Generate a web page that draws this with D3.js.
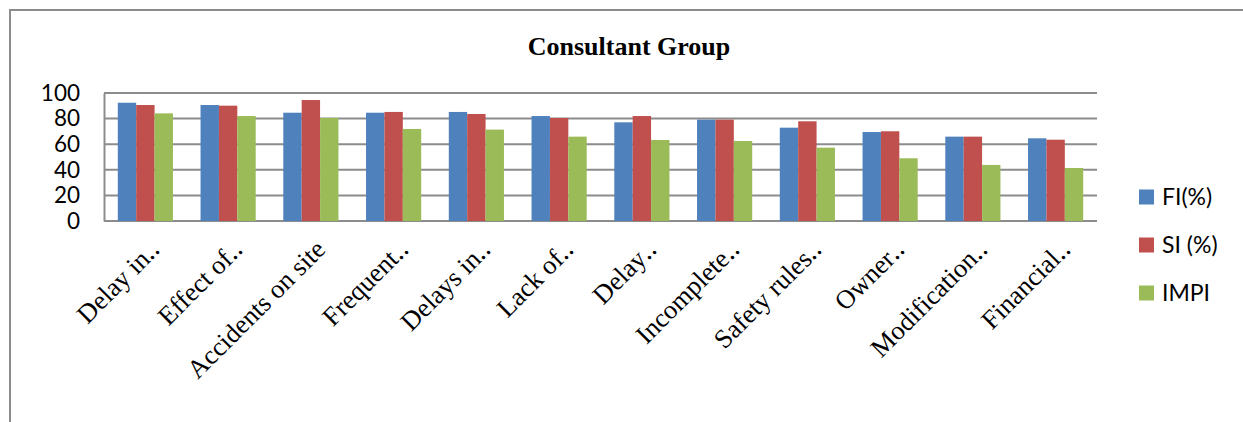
<!DOCTYPE html>
<html>
<head>
  <meta charset="utf-8">
  <title>Consultant Group</title>
  <script src="https://d3js.org/d3.v7.min.js"></script>
  <style>
    body { margin: 0; background: white; }
  </style>
</head>
<body>
  <script>
    // data
    const categories = ["Delay in‥", "Effect of‥", "Accidents on site", "Frequent‥", "Delays in‥",
      "Lack of‥", "Delay‥", "Incomplete‥", "Safety rules‥", "Owner‥", "Modification‥", "Financial‥"];
    const seriesNames = ["FI(%)", "SI (%)", "IMPI"];
    const fiValues = [92.4, 90.6, 84.6, 84.6, 85.2, 82, 77.1, 79.2, 72.9, 69.5, 65.9, 64.6];
    const siValues = [90.6, 90.1, 94.5, 85.2, 83.6, 80.5, 82, 79.2, 77.9, 70.1, 65.9, 63.5];
    const impiValues = [84.1, 82, 80.5, 71.9, 71.4, 65.9, 63.3, 62.5, 57.3, 49, 43.8, 41.4];
    const yTicks = [0, 20, 40, 60, 80, 100];
    const colors = ["#4F81BD", "#C0504D", "#9BBB59"];

    const series = [fiValues, siValues, impiValues];

    const width = 1243, height = 422;
    const margin = { top: 93, right: 146, bottom: 201, left: 104 };

    const svg = d3.select("body").append("svg")
      .attr("width", width)
      .attr("height", height);

    // outer frame (runs off the right and bottom edge)
    svg.append("rect")
      .attr("x", 10).attr("y", 10)
      .attr("width", 1250).attr("height", 430)
      .attr("fill", "none")
      .attr("stroke", "#8c8c8c")
      .attr("stroke-width", 2);

    svg.append("text")
      .attr("x", 629)
      .attr("y", 55)
      .attr("text-anchor", "middle")
      .attr("font-family", "Liberation Serif, Times New Roman, serif")
      .attr("font-weight", "bold")
      .attr("font-size", 26)
      .text("Consultant Group");

    const x0 = d3.scaleBand()
      .domain(categories)
      .range([margin.left, width - margin.right])
      .padding(0);

    const x1 = d3.scaleBand()
      .domain(d3.range(seriesNames.length))
      .range([0, x0.bandwidth()])
      .paddingInner(0)
      .paddingOuter(0.75);

    const y = d3.scaleLinear()
      .domain([0, 100])
      .range([height - margin.bottom, margin.top]);

    // gridlines
    svg.append("g")
      .selectAll("line")
      .data(yTicks)
      .join("line")
      .attr("x1", margin.left)
      .attr("x2", width - margin.right)
      .attr("y1", d => y(d))
      .attr("y2", d => y(d))
      .attr("stroke", "#8c8c8c")
      .attr("stroke-width", 2);

    // y axis
    const yAxis = svg.append("g")
      .attr("transform", `translate(${margin.left},0)`)
      .call(d3.axisLeft(y).tickValues(yTicks).tickSize(0).tickPadding(24));
    yAxis.select(".domain").attr("stroke", "#8c8c8c").attr("stroke-width", 2);
    yAxis.selectAll("text")
      .attr("font-family", "Lato, Carlito, sans-serif")
      .attr("font-size", 22.5)
      .attr("fill", "#000");

    // bars
    svg.append("g")
      .selectAll("g")
      .data(categories)
      .join("g")
      .attr("transform", d => `translate(${x0(d)},0)`)
      .selectAll("rect")
      .data((d, i) => series.map((s, j) => ({ j, v: s[i] })))
      .join("rect")
      .attr("x", d => x1(d.j))
      .attr("width", x1.bandwidth())
      .attr("y", d => y(d.v))
      .attr("height", d => y(0) - y(d.v))
      .attr("fill", d => colors[d.j]);

    // category labels
    svg.append("g")
      .selectAll("text")
      .data(categories)
      .join("text")
      .attr("transform", d => `translate(${x0(d) + x0.bandwidth() / 2 + 16},${y(0) + 30}) rotate(-45)`)
      .attr("text-anchor", "end")
      .attr("font-family", "Liberation Serif, Times New Roman, serif")
      .attr("font-size", 26.5)
      .text(d => d);

    // legend
    const legend = svg.append("g")
      .selectAll("g")
      .data(seriesNames)
      .join("g")
      .attr("transform", (d, i) => `translate(1139,${197 + i * 48})`);
    legend.append("rect")
      .attr("y", -7.5)
      .attr("width", 15)
      .attr("height", 15)
      .attr("fill", (d, i) => colors[i]);
    legend.append("text")
      .attr("x", 23)
      .attr("dy", "0.36em")
      .attr("font-family", "Lato, Carlito, sans-serif")
      .attr("font-size", 23)
      .text(d => d);
  </script>
</body>
</html>
